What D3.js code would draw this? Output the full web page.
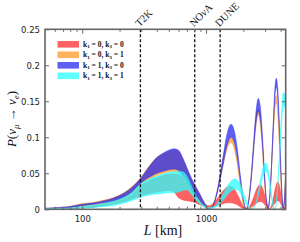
<html>
<head>
<style>
  body { margin: 0; background: #fff; }
  text { font-family: "DejaVu Sans", sans-serif; }
  .serif { font-family: "Liberation Serif", "DejaVu Serif", serif; }
</style>
</head>
<body>
<svg id="container" width="300" height="242"></svg>
<script src="https://cdn.jsdelivr.net/npm/d3@7"></script>
<script>
// baseline L in km
let L = [50,60,70,80,100,125,150,175,200,250,300,350,400,450,500,550,600,650,700,750,800,850,900,950,1000,
  1065,1170,1275,1380,1485,1590,1695,1800,1905,2010,2115,2220,2325,2430,2535,2640,2745,2850,2955,3060,3165,
  3270,3375,3480,3585,3690,3795,3900,4005,4110,4215,4320,4400]

// k1 = 0, k3 = 0
let redHi = [.0007,.001,.0013,.0018,.003,.005,.007,.009,.012,.020,.033,.040,.044,.047,.049,.049,.048,.045,.040,.032,.024,.016,.010,.006,.005,
  .005,.010,.018,.026,.031,.032,.028,.020,.011,.004,.001,.003,.009,.017,.026,.032,.034,.030,.022,.012,.004,.001,.005,.014,.025,.034,.038,.034,.024,.012,.004,.002,.006]
let redLo = [.0004,.0006,.0008,.001,.002,.003,.005,.007,.009,.014,.019,.022,.024,.025,.026,.024,.016,.013,.012,.011,.010,.008,.006,.004,.003,
  .002,.004,.006,.008,.009,.009,.008,.006,.003,.001,.000,.001,.003,.005,.008,.010,.011,.010,.007,.004,.001,.000,.002,.005,.008,.011,.012,.011,.008,.004,.001,.000,.002]
// k1 = 0, k3 = 1
let orangeHi = [.0015,.002,.003,.0042,.008,.0098,.0128,.0158,.0198,.031,.045,.061,.072,.077,.080,.082,.080,.069,.056,.044,.034,.026,.019,.011,.005,
  .002,.012,.038,.068,.092,.100,.090,.064,.032,.007,.001,.016,.050,.092,.127,.140,.126,.090,.045,.011,.001,.018,.058,.105,.145,.158,.142,.100,.050,.012,.001,.022,.050]
let orangeLo = [.0008,.0012,.0016,.002,.004,.0055,.0075,.0095,.012,.020,.034,.042,.047,.050,.052,.053,.051,.045,.037,.028,.019,.014,.009,.005,.0015,
  .001,.011,.035,.063,.085,.093,.083,.059,.029,.006,.000,.015,.046,.086,.118,.131,.117,.084,.042,.010,.000,.017,.054,.098,.135,.148,.133,.093,.046,.011,.000,.020,.046]
// k1 = 1, k3 = 0
let blueHi = [.0015,.002,.003,.004,.007,.009,.012,.015,.019,.030,.044,.060,.072,.078,.082,.084,.082,.071,.058,.046,.036,.028,.020,.012,.006,
  .001,.011,.040,.076,.106,.118,.108,.080,.043,.012,.001,.014,.050,.096,.136,.154,.142,.104,.056,.016,.001,.017,.060,.115,.163,.182,.167,.123,.066,.019,.001,.019,.050]
let blueLo = [.001,.0014,.002,.0025,.005,.007,.009,.011,.014,.023,.037,.045,.050,.053,.055,.056,.054,.047,.040,.030,.021,.016,.011,.006,.002,
  .000,.009,.034,.064,.090,.100,.092,.068,.036,.010,.000,.012,.044,.085,.120,.136,.125,.092,.049,.014,.000,.016,.056,.107,.152,.170,.156,.114,.061,.018,.000,.017,.046]
// k1 = 1, k3 = 1
let cyanHi = [.0008,.001,.0015,.002,.004,.006,.0085,.011,.014,.023,.036,.042,.046,.049,.051,.052,.053,.052,.046,.035,.024,.016,.010,.006,.004,
  .002,.004,.012,.022,.032,.039,.042,.040,.033,.022,.012,.005,.001,.002,.010,.024,.040,.054,.063,.064,.056,.040,.022,.007,.001,.010,.035,.072,.112,.145,.162,.160,.150]
let cyanLo = [.0003,.0005,.0007,.001,.0015,.0025,.004,.005,.007,.012,.017,.020,.021,.022,.023,.023,.024,.026,.027,.022,.016,.011,.007,.004,.002,
  .001,.002,.007,.013,.020,.025,.028,.027,.022,.014,.007,.002,.000,.002,.008,.018,.031,.043,.051,.053,.046,.032,.016,.004,.000,.008,.030,.062,.098,.128,.144,.142,.134]

let bandNames = ["k1 = 0, k3 = 0", "k1 = 0, k3 = 1", "k1 = 1, k3 = 0", "k1 = 1, k3 = 1"]
let bandK1 = ["0", "0", "1", "1"]
let bandK3 = ["0", "1", "0", "1"]
let bandColors = ["#ff2d2d", "#ff9a2a", "#2a2aee", "#2affff"]

let detectors = ["T2K", "NOνA", "DUNE"]
let detectorL = [295, 810, 1300]

let xMajorTicks = [100, 1000]
let xMinorTicks = [60, 70, 80, 90, 200, 300, 400, 500, 600, 700, 800, 900, 2000, 3000, 4000]
let yTicks = [0, 0.05, 0.1, 0.15, 0.2, 0.25]
let yTickLabels = ["0", "0.05", "0.1", "0.15", "0.2", "0.25"]

let container = d3.select("#container")
let mLeft = 45, mRight = 285.7, mTop = 29.3, mBottom = 209.3

let xScale = d3.scaleLog().domain([50, 4400]).range([mLeft, mRight])
let yScale = d3.scaleLinear().domain([0, 0.25]).range([mBottom, mTop])

container.append("defs").append("clipPath").attr("id", "plot")
  .append("rect").attr("x", mLeft).attr("y", mTop).attr("width", mRight - mLeft).attr("height", mBottom - mTop)

let bands = [
  { hi: redHi, lo: redLo },
  { hi: orangeHi, lo: orangeLo },
  { hi: blueHi, lo: blueLo },
  { hi: cyanHi, lo: cyanLo }
]

let area = d3.area()
  .x(d => xScale(d.L))
  .y0(d => yScale(d.lo))
  .y1(d => yScale(d.hi))
  .curve(d3.curveMonotoneX)

let plot = container.append("g").attr("clip-path", "url(#plot)")
plot.selectAll("path.band")
  .data(bands)
  .enter()
  .append("path")
  .attr("class", "band")
  .attr("d", b => area(L.map((l, i) => ({ L: l, hi: b.hi[i], lo: b.lo[i] }))))
  .attr("fill", (b, i) => bandColors[i])
  .attr("fill-opacity", 0.75)
  .attr("stroke", (b, i) => bandColors[i])
  .attr("stroke-opacity", 0.75)
  .attr("stroke-width", 0.6)

// detector baselines
container.selectAll("line.det")
  .data(detectorL)
  .enter()
  .append("line")
  .attr("class", "det")
  .attr("x1", d => xScale(d)).attr("x2", d => xScale(d))
  .attr("y1", mTop).attr("y2", mBottom)
  .attr("stroke", "#111")
  .attr("stroke-width", 1.3)
  .attr("stroke-dasharray", "3,2")

let detText = container.selectAll("text.det")
  .data(detectors)
  .enter()
  .append("text")
  .attr("class", "det serif")
  .attr("transform", (d, i) => `translate(${xScale(detectorL[i]) - 1},${mTop - 2}) rotate(-45)`)
  .attr("font-size", 10.5)
  .attr("fill", "#111")
detText.each(function (d) {
  let t = d3.select(this)
  if (d === "NOνA") {
    t.append("tspan").text("NO")
    t.append("tspan").attr("font-style", "italic").text("ν")
    t.append("tspan").text("A")
  } else {
    t.text(d)
  }
})

// axes
function styleAxis(g) {
  g.select(".domain").remove()
  g.selectAll(".tick line").attr("stroke", "#666").attr("stroke-width", 1)
  g.selectAll(".tick text").attr("fill", "#222").attr("font-size", 8.5)
    .style("font-family", "'DejaVu Sans', sans-serif")
}

container.append("g").attr("transform", `translate(0,${mBottom})`)
  .call(d3.axisBottom(xScale).tickValues(xMinorTicks).tickSize(-2.5).tickFormat(""))
  .call(styleAxis)
container.append("g").attr("transform", `translate(0,${mBottom})`)
  .call(d3.axisBottom(xScale).tickValues(xMajorTicks).tickSizeInner(-4.5).tickSizeOuter(0)
    .tickPadding(7).tickFormat(d3.format("d")))
  .call(styleAxis)
container.append("g").attr("transform", `translate(0,${mTop})`)
  .call(d3.axisTop(xScale).tickValues(xMinorTicks).tickSize(-2.5).tickFormat(""))
  .call(styleAxis)
container.append("g").attr("transform", `translate(0,${mTop})`)
  .call(d3.axisTop(xScale).tickValues(xMajorTicks).tickSize(-4.5).tickFormat(""))
  .call(styleAxis)
container.append("g").attr("transform", `translate(${mLeft},0)`)
  .call(d3.axisLeft(yScale).tickValues(yTicks).tickSizeInner(-4).tickSizeOuter(0)
    .tickPadding(5).tickFormat((d, i) => yTickLabels[i]))
  .call(styleAxis)
container.append("g").attr("transform", `translate(${mRight},0)`)
  .call(d3.axisRight(yScale).tickValues(yTicks).tickSize(-4).tickFormat(""))
  .call(styleAxis)

container.append("rect")
  .attr("x", mLeft).attr("y", mTop)
  .attr("width", mRight - mLeft).attr("height", mBottom - mTop)
  .attr("fill", "none")
  .attr("stroke", "#666")
  .attr("stroke-width", 1.6)

// axis titles
let xt = container.append("text").attr("class", "serif")
  .attr("x", 163).attr("y", 234.5)
  .attr("text-anchor", "middle")
  .attr("font-size", 14)
  .attr("fill", "#111")
xt.append("tspan").attr("font-style", "italic").text("L")
xt.append("tspan").text(" [km]")

let yt = container.append("text").attr("class", "serif")
  .attr("transform", "translate(15.5,119) rotate(-90)")
  .attr("text-anchor", "middle")
  .attr("font-size", 13)
  .attr("fill", "#111")
yt.append("tspan").attr("font-style", "italic").text("P")
yt.append("tspan").text("(")
yt.append("tspan").attr("font-style", "italic").text("ν")
yt.append("tspan").attr("font-style", "italic").attr("font-size", 9).attr("dy", 3).text("μ")
yt.append("tspan").attr("dy", -3).text(" → ")
yt.append("tspan").attr("font-style", "italic").text("ν")
yt.append("tspan").attr("font-style", "italic").attr("font-size", 9).attr("dy", 3).text("e")
yt.append("tspan").attr("dy", -3).text(")")

// legend
let legend = container.append("g")
let rows = legend.selectAll("g")
  .data(bandNames)
  .enter()
  .append("g")
  .attr("transform", (d, i) => `translate(57.5,${44.3 + i * 10.5})`)
rows.append("rect")
  .attr("x", 0).attr("y", -3.3)
  .attr("width", 21.5).attr("height", 6.6)
  .attr("fill", (d, i) => bandColors[i])
  .attr("fill-opacity", 0.75)
let lt = rows.append("text").attr("class", "serif")
  .attr("x", 25.5).attr("y", 2.5)
  .attr("font-size", 7.5)
  .attr("font-weight", "bold")
  .attr("fill", "#111")
lt.each(function (d, i) {
  let t = d3.select(this)
  t.append("tspan").text("k")
  t.append("tspan").attr("font-size", 5).attr("dy", 1.5).text("1")
  t.append("tspan").attr("dy", -1.5).text(" = " + bandK1[i] + ", k")
  t.append("tspan").attr("font-size", 5).attr("dy", 1.5).text("3")
  t.append("tspan").attr("dy", -1.5).text(" = " + bandK3[i])
})
</script>
</body>
</html>
